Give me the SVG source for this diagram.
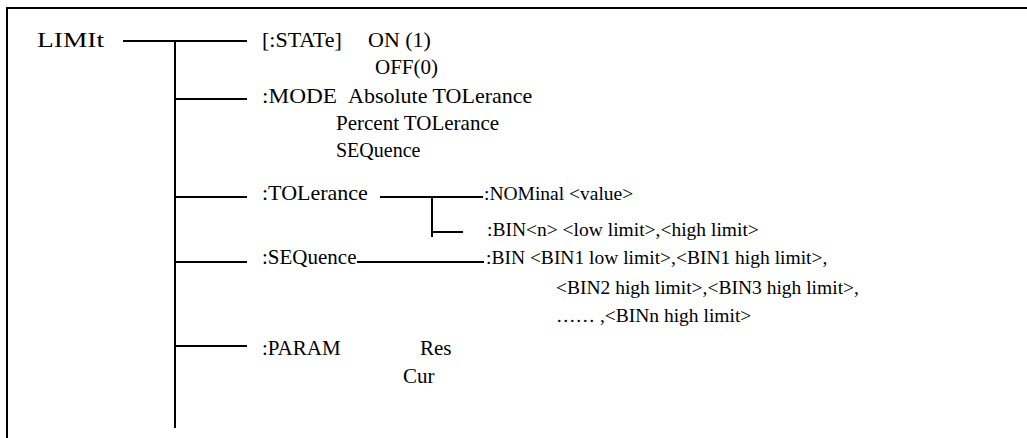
<svg xmlns="http://www.w3.org/2000/svg" width="1027" height="438" viewBox="0 0 1027 438">
<style>
text{font-family:"Liberation Serif","Times New Roman",serif;font-size:20px;fill:#000}
.l{font-size:22px}
.m{font-size:21px}
.s{font-size:19.5px}
.ln{stroke:#000;stroke-width:2;fill:none}
</style>
<rect x="0" y="0" width="1027" height="438" fill="#fff"/>
<g id="frame"><path class="ln" d="M7,438 V8 H1027"/></g>
<g id="connectors">
<path class="ln" d="M123,41 H247"/>
<path class="ln" d="M175,41 V428"/>
<path class="ln" d="M175,99 H247"/>
<path class="ln" d="M175,197 H247"/>
<path class="ln" d="M175,262 H247"/>
<path class="ln" d="M175,346 H247"/>
<path class="ln" d="M380,197 H483"/>
<path class="ln" d="M432,197 V237"/>
<path class="ln" d="M432,232 H463"/>
<path class="ln" d="M357,262 H484"/>
</g>
<g id="limit"><text class="l" x="37" y="47" textLength="67" lengthAdjust="spacingAndGlyphs">LIMIt</text></g>
<g id="state"><text class="l" x="262" y="47">[:STATe]</text><text class="l" x="368" y="47">ON (1)</text><text class="m" x="375" y="74">OFF(0)</text></g>
<g id="mode"><text class="l" x="262" y="103" textLength="75" lengthAdjust="spacingAndGlyphs">:MODE</text><text class="l" x="348" y="103">Absolute TOLerance</text><text class="m" x="336" y="130">Percent TOLerance</text><text x="336" y="157">SEQuence</text></g>
<g id="tolerance"><text class="l" x="262" y="200">:TOLerance</text><text class="s" x="484" y="200">:NOMinal &lt;value&gt;</text><text class="s" x="487" y="236">:BIN&lt;n&gt; &lt;low limit&gt;,&lt;high limit&gt;</text></g>
<g id="sequence"><text class="m" x="262" y="264">:SEQuence</text><text class="s" x="486" y="264">:BIN &lt;BIN1 low limit&gt;,&lt;BIN1 high limit&gt;,</text><text class="s" x="556" y="294">&lt;BIN2 high limit&gt;,&lt;BIN3 high limit&gt;,</text><text class="s" x="556" y="322">…… ,&lt;BINn high limit&gt;</text></g>
<g id="param"><text class="m" x="262" y="355">:PARAM</text><text class="m" x="420" y="355">Res</text><text class="m" x="403" y="383">Cur</text></g>
</svg>
